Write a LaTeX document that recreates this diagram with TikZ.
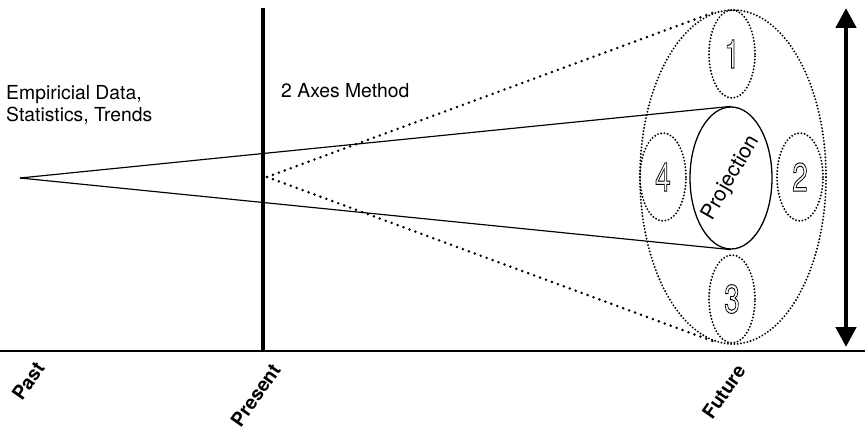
\documentclass[tikz,border=0pt]{standalone}
\usepackage{fontspec}
\setmainfont{TeX Gyre Heros}
\usetikzlibrary{shapes.geometric, arrows.meta}

% hollow (outlined) digits
\newcommand\outlined[1]{\scalebox{0.7}[1]{\special{pdf:literal direct 1 Tr 0.8 w}#1\special{pdf:literal direct 0 Tr}}}

\tikzset{
  dots/.style={line width=2.4pt, line cap=round, dash pattern=on 0pt off 5.4pt},
  finedots/.style={line width=1.8pt, line cap=round, dash pattern=on 0pt off 2.8pt},
  scenario/.style={ellipse, draw, finedots, inner sep=0pt,
    minimum width=1.38cm, minimum height=2.64cm, font=\fontsize{34}{34}\selectfont},
  timelabel/.style={rotate=55, anchor=east, inner sep=0pt,
    font=\bfseries\fontsize{16.5}{16.5}\selectfont},
  caption/.style={align=left, anchor=base west, inner sep=0pt,
    font=\fontsize{16.5}{19.6}\selectfont},
}

\begin{document}
\begin{tikzpicture}[x=0.03cm, y=-0.03cm]
  \useasboundingbox (0,0) rectangle (865,432);

  % time axis and the present
  \coordinate (axisL) at (0,351);
  \coordinate (axisR) at (865,351);
  \coordinate (nowT) at (263,8);
  \coordinate (nowB) at (263,351);
  \draw[line width=1.8pt] (axisL) -- (axisR);
  \draw[line width=4pt] (nowT) -- (nowB);

  % future space and scenarios
  \node[ellipse, draw, finedots, inner sep=0pt, minimum width=5.58cm,
        minimum height=10.02cm] (future) at (733,177) {};
  \node[ellipse, draw, line width=1.1pt, inner sep=0pt, minimum width=2.46cm,
        minimum height=4.26cm, font=\fontsize{18}{18}\selectfont]
        (proj) at (731,178) {\rotatebox{60}{\makebox[0pt]{\raisebox{-0.35em}{Projection}}}};
  \node[scenario] (s1) at (732,54) {\outlined{1}};
  \node[scenario] (s2) at (800,177) {\outlined{2}};
  \node[scenario] (s3) at (732,299) {\outlined{3}};
  \node[scenario] (s4) at (663,177) {\outlined{4}};

  % funnels
  \coordinate (past) at (20,178);
  \coordinate (now) at (267,177);
  \draw[line width=1pt] (past) -- (proj.north);
  \draw[line width=1pt] (past) -- (proj.south);
  \draw[dots] (now) -- (future.97);
  \draw[dots] (now) -- (future.263);

  % range arrow
  \coordinate (rangeT) at (846,8);
  \coordinate (rangeB) at (846,347);
  \draw[line width=4pt, {Triangle[width=17pt,length=17pt]}-{Triangle[width=17pt,length=17pt]}]
    (rangeT) -- (rangeB);

  % texts
  \node[caption] (data) at (6,122) {Empiricial Data,\\Statistics, Trends};
  \node[caption] (axes) at (281,98) {2 Axes Method};
  \node[timelabel] (lpast) at (40,364) {Past};
  \node[timelabel] (lnow) at (276,366) {Present};
  \node[timelabel] (lfut) at (741,367) {Future};
\end{tikzpicture}
\end{document}
